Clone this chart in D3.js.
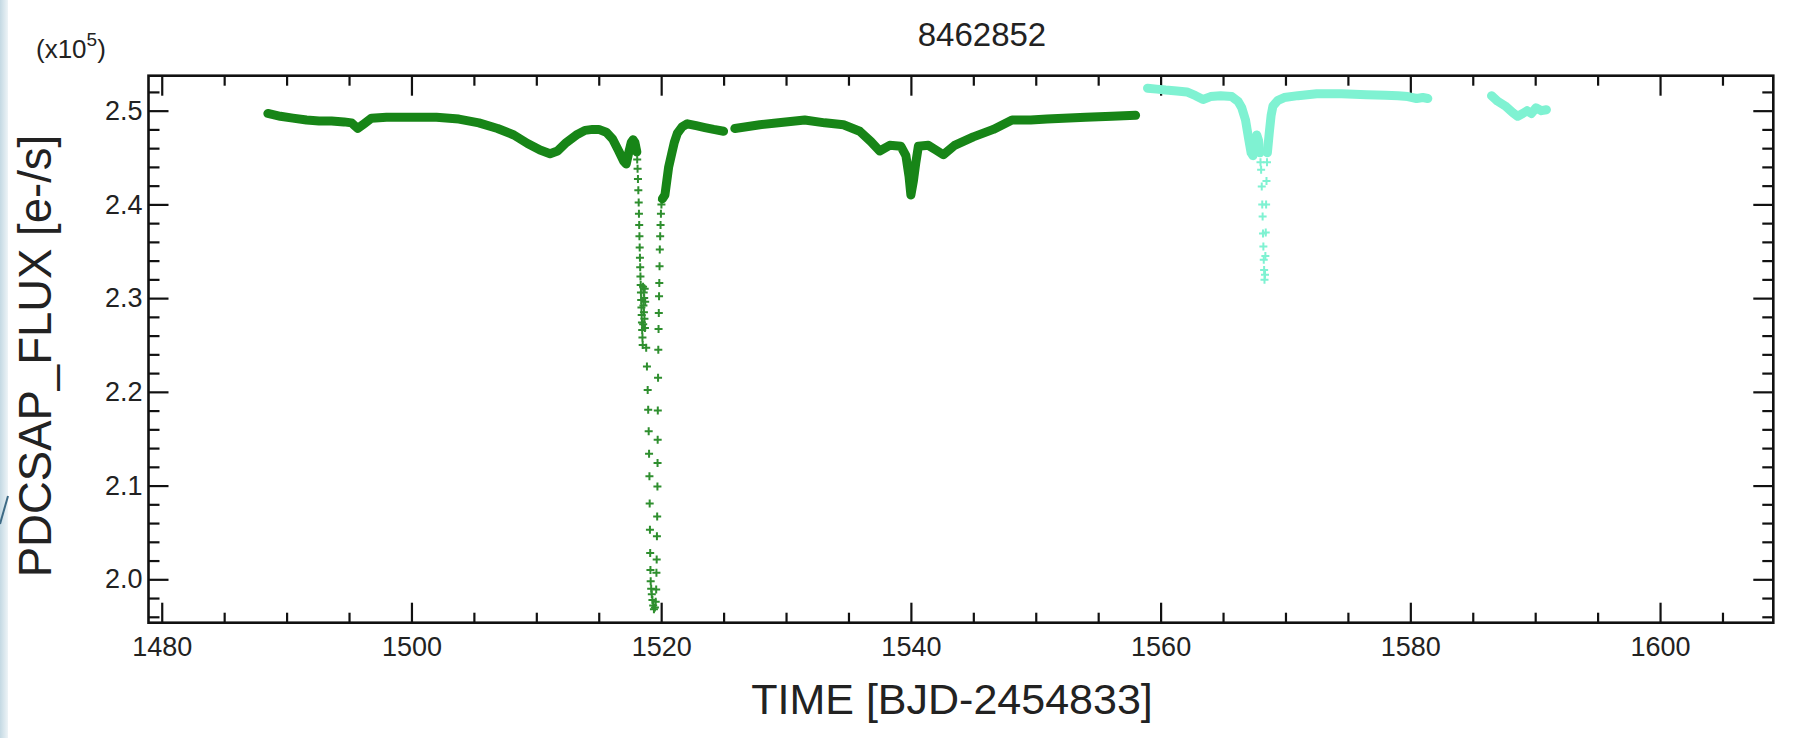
<!DOCTYPE html>
<html>
<head>
<meta charset="utf-8">
<script src="https://cdn.jsdelivr.net/npm/d3@7"></script>
<style>
  html, body { margin: 0; padding: 0; background: #fff; }
  svg { display: block; font-family: "Liberation Sans", Arial, Helvetica, sans-serif; }
</style>
</head>
<body>
<svg id="chart" width="1793" height="738"></svg>
<script>
// Kepler light curve of KIC 8462852 (quarters 16 and 17).
// Flux is in units of 1e5 e-/s, time in BJD-2454833.

const chartTitle = "8462852";
const xTitle = "TIME [BJD-2454833]";
const yTitle = "PDCSAP_FLUX [e-/s]";
const xTickValues = [1480, 1500, 1520, 1540, 1560, 1580, 1600];
const yTickValues = [2.0, 2.1, 2.2, 2.3, 2.4, 2.5];
const yTickLabels = ["2.0", "2.1", "2.2", "2.3", "2.4", "2.5"];

// Quarter 16, dense cadences before the deep dip
const q16Pre = [
  [1488.5, 2.497], [1489.5, 2.494], [1490.5, 2.492], [1491.6, 2.490], [1492.6, 2.489],
  [1493.6, 2.489], [1494.6, 2.488], [1495.2, 2.487], [1495.7, 2.481], [1496.2, 2.486],
  [1496.8, 2.492], [1498.0, 2.493], [1500.0, 2.493], [1502.0, 2.493], [1503.8, 2.491],
  [1505.4, 2.487], [1506.9, 2.481], [1508.2, 2.474], [1509.3, 2.465], [1510.3, 2.458],
  [1511.1, 2.454], [1511.7, 2.457], [1512.4, 2.466], [1513.2, 2.474], [1513.9, 2.479],
  [1514.5, 2.480], [1515.0, 2.480], [1515.6, 2.477], [1516.1, 2.470], [1516.6, 2.457],
  [1517.0, 2.446], [1517.2, 2.443], [1517.4, 2.455], [1517.6, 2.466], [1517.75, 2.469],
  [1517.9, 2.466], [1518.05, 2.456]
];

// Quarter 16, individual cadences through the deep dip near day 1519
const q16Dip = [
  [1518.08, 2.448], [1518.11, 2.438], [1518.14, 2.427], [1518.17, 2.415], [1518.20, 2.402],
  [1518.22, 2.390], [1518.24, 2.378], [1518.26, 2.366], [1518.28, 2.354], [1518.30, 2.343],
  [1518.32, 2.333], [1518.34, 2.323], [1518.36, 2.314], [1518.38, 2.306], [1518.40, 2.298],
  [1518.42, 2.290], [1518.44, 2.282], [1518.46, 2.274], [1518.48, 2.266], [1518.50, 2.258],
  [1518.52, 2.250], [1518.55, 2.312], [1518.60, 2.306], [1518.64, 2.300], [1518.68, 2.310],
  [1518.72, 2.296], [1518.58, 2.292], [1518.62, 2.285], [1518.66, 2.278], [1518.70, 2.268],
  [1518.56, 2.272], [1518.80, 2.247], [1518.86, 2.227], [1518.92, 2.202], [1518.96, 2.181],
  [1519.00, 2.158], [1519.03, 2.134], [1519.06, 2.110], [1519.08, 2.081], [1519.10, 2.053],
  [1519.12, 2.028], [1519.14, 2.010], [1519.16, 1.998], [1519.20, 1.990], [1519.25, 1.984],
  [1519.30, 1.978], [1519.36, 1.972], [1519.42, 1.968], [1519.50, 1.970], [1519.56, 1.976],
  [1519.60, 1.989], [1519.62, 2.007], [1519.64, 2.021], [1519.66, 2.046], [1519.68, 2.067],
  [1519.70, 2.099], [1519.71, 2.124], [1519.72, 2.149], [1519.73, 2.180], [1519.75, 2.215],
  [1519.77, 2.245], [1519.79, 2.267], [1519.81, 2.284], [1519.83, 2.302], [1519.85, 2.316],
  [1519.87, 2.334], [1519.89, 2.352], [1519.92, 2.366], [1519.95, 2.378], [1519.98, 2.390],
  [1520.02, 2.400], [1520.06, 2.405]
];

// Quarter 16, recovery after the dip up to the data gap
const q16Post = [
  [1520.10, 2.406], [1520.30, 2.410], [1520.45, 2.425], [1520.60, 2.440], [1520.86, 2.455],
  [1521.05, 2.466], [1521.30, 2.476], [1521.70, 2.483], [1522.10, 2.486], [1522.80, 2.484],
  [1523.50, 2.482], [1524.20, 2.480], [1525.00, 2.478]
];

// Quarter 16, second half of the quarter
const q16Late = [
  [1525.9, 2.481], [1527.9, 2.485], [1529.4, 2.487], [1531.5, 2.490], [1533.1, 2.487],
  [1534.6, 2.485], [1535.9, 2.478], [1536.8, 2.467], [1537.5, 2.457], [1538.3, 2.463],
  [1539.2, 2.462], [1539.6, 2.452], [1539.85, 2.430], [1540.0, 2.410], [1540.2, 2.425],
  [1540.4, 2.445], [1540.6, 2.462], [1541.4, 2.463], [1542.0, 2.458], [1542.6, 2.453],
  [1543.5, 2.463], [1545.0, 2.472], [1546.6, 2.480], [1548.1, 2.490], [1549.6, 2.490],
  [1550.9, 2.491], [1554.0, 2.493], [1556.1, 2.494], [1558.0, 2.495]
];

// Quarter 17, start of the quarter down into the dip near day 1568
const q17Pre = [
  [1558.95, 2.524], [1559.7, 2.523], [1560.4, 2.522], [1561.3, 2.521], [1562.1, 2.520],
  [1562.8, 2.516], [1563.4, 2.512], [1564.0, 2.515], [1564.8, 2.516], [1565.7, 2.515],
  [1566.2, 2.510], [1566.5, 2.503], [1566.8, 2.490], [1567.05, 2.470], [1567.25, 2.455],
  [1567.4, 2.452], [1567.55, 2.462], [1567.7, 2.474], [1567.85, 2.468], [1567.95, 2.455]
];

// Quarter 17, individual cadences at the bottom of the dip
const q17Dip = [
  [1568.00, 2.445], [1568.05, 2.437], [1568.10, 2.419], [1568.14, 2.400], [1568.17, 2.387],
  [1568.20, 2.369], [1568.23, 2.355], [1568.26, 2.341], [1568.29, 2.330], [1568.32, 2.3195],
  [1568.36, 2.325], [1568.39, 2.345], [1568.42, 2.370], [1568.45, 2.400], [1568.48, 2.425],
  [1568.52, 2.445]
];

// Quarter 17, recovery and remainder of the first segment
const q17Post = [
  [1568.55, 2.455], [1568.70, 2.476], [1568.85, 2.495], [1569.0, 2.505], [1569.4, 2.511],
  [1569.9, 2.514], [1571.0, 2.516], [1572.5, 2.518], [1574.5, 2.518], [1576.5, 2.517],
  [1578.0, 2.5165], [1579.0, 2.516], [1579.8, 2.515], [1580.5, 2.513], [1581.0, 2.514],
  [1581.4, 2.513]
];

// Quarter 17, last short segment
const q17Tail = [
  [1586.5, 2.516], [1587.0, 2.510], [1587.6, 2.505], [1588.2, 2.498], [1588.6, 2.494],
  [1589.0, 2.497], [1589.35, 2.500], [1589.7, 2.497], [1590.06, 2.503], [1590.5, 2.500],
  [1590.9, 2.501]
];

const q16Color = "#178517";
const q17Color = "#7ff2d2";

const svg = d3.select("#chart");
const W = 1793, H = 738;
const plot = { left: 148.5, right: 1773.3, top: 75.7, bottom: 622.7 };

// slide backdrop on the left edge
const bg = svg.append("defs").append("linearGradient")
  .attr("id", "edge").attr("x1", 0).attr("x2", 1).attr("y1", 0).attr("y2", 0);
bg.append("stop").attr("offset", 0).attr("stop-color", "#c4d9e3");
bg.append("stop").attr("offset", 1).attr("stop-color", "#eef4f7");
svg.append("rect").attr("x", 0).attr("y", 0).attr("width", 8).attr("height", H)
  .attr("fill", "url(#edge)");
svg.append("path").attr("d", "M0,524 L8,496")
  .attr("stroke", "#3d6a85").attr("stroke-width", 2).attr("fill", "none");

const x = d3.scaleLinear().domain([1478.94, 1609.07]).range([plot.left, plot.right]);
const y = d3.scaleLinear().domain([1.9537, 2.5373]).range([plot.bottom, plot.top]);

const minorX = d3.range(1480, 1610, 5).filter(v => !xTickValues.includes(v));
const minorY = d3.range(98, 127).filter(i => i % 5 !== 0).map(i => i / 50);

function styleAxis(g) {
  g.select(".domain").remove();
  g.selectAll(".tick line").attr("stroke", "#111").attr("stroke-width", 2.2);
  g.selectAll(".tick text").attr("fill", "#222").attr("font-size", 27)
    .attr("font-family", '"Liberation Sans", Arial, sans-serif');
}

// bottom axis with labels
svg.append("g").attr("transform", `translate(0,${plot.bottom})`)
  .call(d3.axisBottom(x).tickValues(xTickValues).tickSizeInner(-20).tickSizeOuter(0)
    .tickPadding(12).tickFormat(d3.format("d")))
  .call(styleAxis)
  .selectAll(".tick text").attr("y", 14).attr("dy", "0.71em");
svg.append("g").attr("transform", `translate(0,${plot.bottom})`)
  .call(d3.axisBottom(x).tickValues(minorX).tickSizeInner(-10).tickSizeOuter(0).tickFormat(""))
  .call(styleAxis);
// top axis
svg.append("g").attr("transform", `translate(0,${plot.top})`)
  .call(d3.axisTop(x).tickValues(xTickValues).tickSizeInner(-20).tickSizeOuter(0).tickFormat(""))
  .call(styleAxis);
svg.append("g").attr("transform", `translate(0,${plot.top})`)
  .call(d3.axisTop(x).tickValues(minorX).tickSizeInner(-10).tickSizeOuter(0).tickFormat(""))
  .call(styleAxis);
// left axis with labels
svg.append("g").attr("transform", `translate(${plot.left},0)`)
  .call(d3.axisLeft(y).tickValues(yTickValues).tickSizeInner(-20).tickSizeOuter(0)
    .tickPadding(6).tickFormat((d, i) => yTickLabels[i]))
  .call(styleAxis);
svg.append("g").attr("transform", `translate(${plot.left},0)`)
  .call(d3.axisLeft(y).tickValues(minorY).tickSizeInner(-11).tickSizeOuter(0).tickFormat(""))
  .call(styleAxis);
// right axis
svg.append("g").attr("transform", `translate(${plot.right},0)`)
  .call(d3.axisRight(y).tickValues(yTickValues).tickSizeInner(-20).tickSizeOuter(0).tickFormat(""))
  .call(styleAxis);
svg.append("g").attr("transform", `translate(${plot.right},0)`)
  .call(d3.axisRight(y).tickValues(minorY).tickSizeInner(-11).tickSizeOuter(0).tickFormat(""))
  .call(styleAxis);

// frame
svg.append("rect")
  .attr("x", plot.left).attr("y", plot.top)
  .attr("width", plot.right - plot.left).attr("height", plot.bottom - plot.top)
  .attr("fill", "none").attr("stroke", "#111").attr("stroke-width", 2.6);

// light curve
const line = d3.line().x(d => x(d[0])).y(d => y(d[1]));
const marks = svg.append("g");

function band(data, color) {
  marks.append("path").datum(data)
    .attr("d", line)
    .attr("fill", "none").attr("stroke", color)
    .attr("stroke-width", 9).attr("stroke-linejoin", "round").attr("stroke-linecap", "round");
}
function crosses(data, color) {
  marks.append("g").selectAll("path").data(data).join("path")
    .attr("transform", d => `translate(${x(d[0])},${y(d[1])})`)
    .attr("d", "M-4,0H4M0,-4V4")
    .attr("fill", "none").attr("stroke", color).attr("stroke-width", 2);
}

band(q16Pre, q16Color);
crosses(q16Dip, "#2f8f2f");
band(q16Post, q16Color);
band(q16Late, q16Color);
band(q17Pre, q17Color);
crosses(q17Dip, q17Color);
band(q17Post, q17Color);
band(q17Tail, q17Color);

// titles
svg.append("text").attr("x", 982).attr("y", 46).attr("text-anchor", "middle")
  .attr("font-size", 33).attr("fill", "#222").text(chartTitle);

svg.append("text").attr("x", 952).attr("y", 714).attr("text-anchor", "middle")
  .attr("font-size", 43).attr("fill", "#222").text(xTitle);

svg.append("text").attr("transform", "translate(51,356) rotate(-90)")
  .attr("text-anchor", "middle").attr("font-size", 45.5).attr("fill", "#222").text(yTitle);

// exponent note for the flux axis
const expo = svg.append("text").attr("x", 36).attr("y", 58)
  .attr("font-size", 26).attr("fill", "#222");
expo.append("tspan").text("(x10");
expo.append("tspan").attr("font-size", 19).attr("dy", -12).text("5");
expo.append("tspan").attr("dy", 12).text(")");
</script>
</body>
</html>
